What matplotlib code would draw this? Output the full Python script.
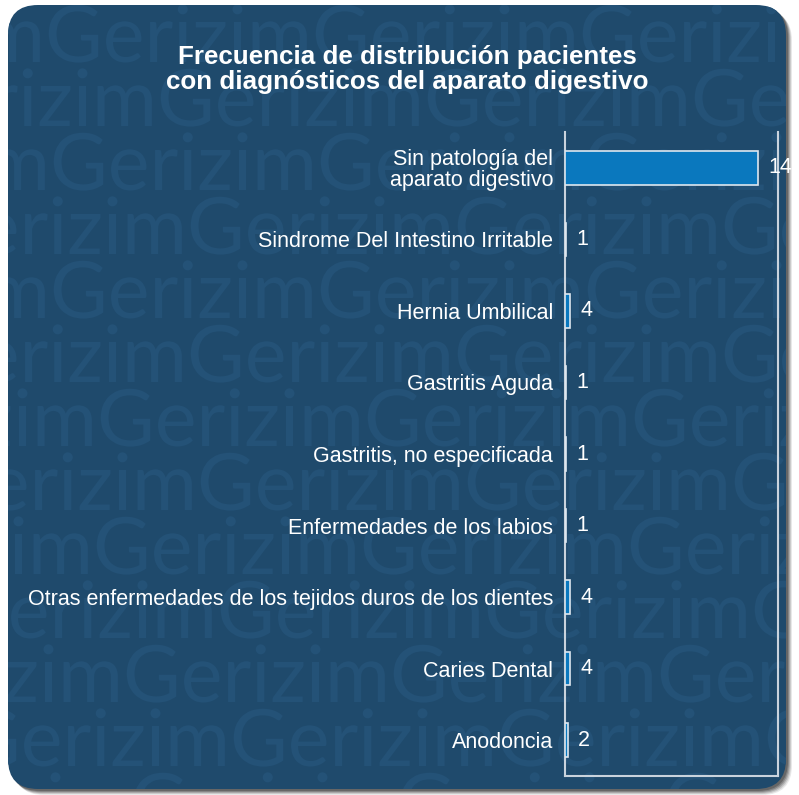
import matplotlib
matplotlib.use("Agg")
import matplotlib.pyplot as plt
import numpy as np
from matplotlib.patches import FancyBboxPatch
from matplotlib.textpath import TextPath
from matplotlib.font_manager import FontProperties
import matplotlib.patheffects as pe

plt.rcParams["font.family"] = ["Liberation Sans", "DejaVu Sans"]

# ---- data -------------------------------------------------------------
categories = [
    "Sin patología del\naparato digestivo",
    "Sindrome Del Intestino Irritable",
    "Hernia Umbilical",
    "Gastritis Aguda",
    "Gastritis, no especificada",
    "Enfermedades de los labios",
    "Otras enfermedades de los tejidos duros de los dientes",
    "Caries Dental",
    "Anodoncia",
]
values = [144, 1, 4, 1, 1, 1, 4, 4, 2]
title = "Frecuencia de distribución pacientes\ncon diagnósticos del aparato digestivo"

# ---- figure / card background ----------------------------------------
W, H = 799, 795
fig = plt.figure(figsize=(W / 100, H / 100), dpi=100)
fig.patch.set_facecolor("white")

bg = fig.add_axes([0, 0, 1, 1])
bg.set_xlim(0, W)
bg.set_ylim(H, 0)
bg.axis("off")

CARD_COLOR = "#1f4a6c"
MARK_COLOR = "#245277"
cx0, cy0, cx1, cy1, rad = 8, 5, 786, 789, 30

# soft drop shadow towards the lower right
for off, a in [(6, 0.10), (5, 0.15), (4, 0.2), (3, 0.25), (2, 0.3)]:
    bg.add_patch(FancyBboxPatch((cx0 + off, cy0 + off), cx1 - cx0, cy1 - cy0,
                                boxstyle=f"round,pad=0,rounding_size={rad}",
                                fc="#202020", ec="none", alpha=a))

card = FancyBboxPatch((cx0, cy0), cx1 - cx0, cy1 - cy0,
                      boxstyle=f"round,pad=0,rounding_size={rad}",
                      fc=CARD_COLOR, ec="none")
bg.add_patch(card)

# repeated brand word in the background, clipped to the rounded card
fp = FontProperties(family=["Lato", "DejaVu Sans"], weight="normal")
one = TextPath((0, 0), "Gerizim", size=100, prop=fp).get_extents().width
two = TextPath((0, 0), "GerizimGerizim", size=100, prop=fp).get_extents().width
word_px = 267
size_px = 100 * word_px / (two - one)
mark_pt = size_px * 72 / 100
row_g = [45, 157, 50, 187, 50, 187, 97, 197, 93, 217, 123, 230, 130]
for k, gx in enumerate(row_g):
    base = 62 + 64 * k
    t = bg.text(gx - 3 * word_px, base, "Gerizim" * 7, fontproperties=fp,
                fontsize=mark_pt, color=MARK_COLOR, ha="left", va="baseline",
                path_effects=[pe.Normal()], clip_on=True)
    t.set_clip_path(card)

# ---- bar chart --------------------------------------------------------
ax = fig.add_axes([565 / W, 1 - 776 / H, 213 / W, 644 / H])
ax.set_facecolor("none")
y = np.arange(len(categories))
ax.barh(y, values, height=0.47, color="#0a78be", edgecolor="#dde7f0",
        linewidth=1.2, zorder=3)
ax.set_xlim(0, 159)
ax.set_ylim(len(categories) - 0.5, -0.5)
ax.set_xticks([])
ax.set_yticks(y, categories)
ax.tick_params(axis="y", length=0, pad=8.6, labelsize=15.5, labelcolor="white")
for lab in ax.get_yticklabels():
    lab.set_linespacing(1.0)

ax.spines["top"].set_visible(False)
for s in ("left", "right", "bottom"):
    ax.spines[s].set_color("#c9d3dd")
    ax.spines[s].set_linewidth(1.5)

for yi, v in zip(y, values):
    ax.annotate(str(v), (v, yi), xytext=(7.5, 0), textcoords="offset points",
                va="center", ha="left", color="white", fontsize=15.5,
                annotation_clip=False)

fig.text(407.5 / W, 0.912, title, ha="center", va="center", color="white",
         fontsize=18.7, fontweight="bold", linespacing=1.05)

fig.savefig("out.png", dpi=100, facecolor=fig.get_facecolor())
